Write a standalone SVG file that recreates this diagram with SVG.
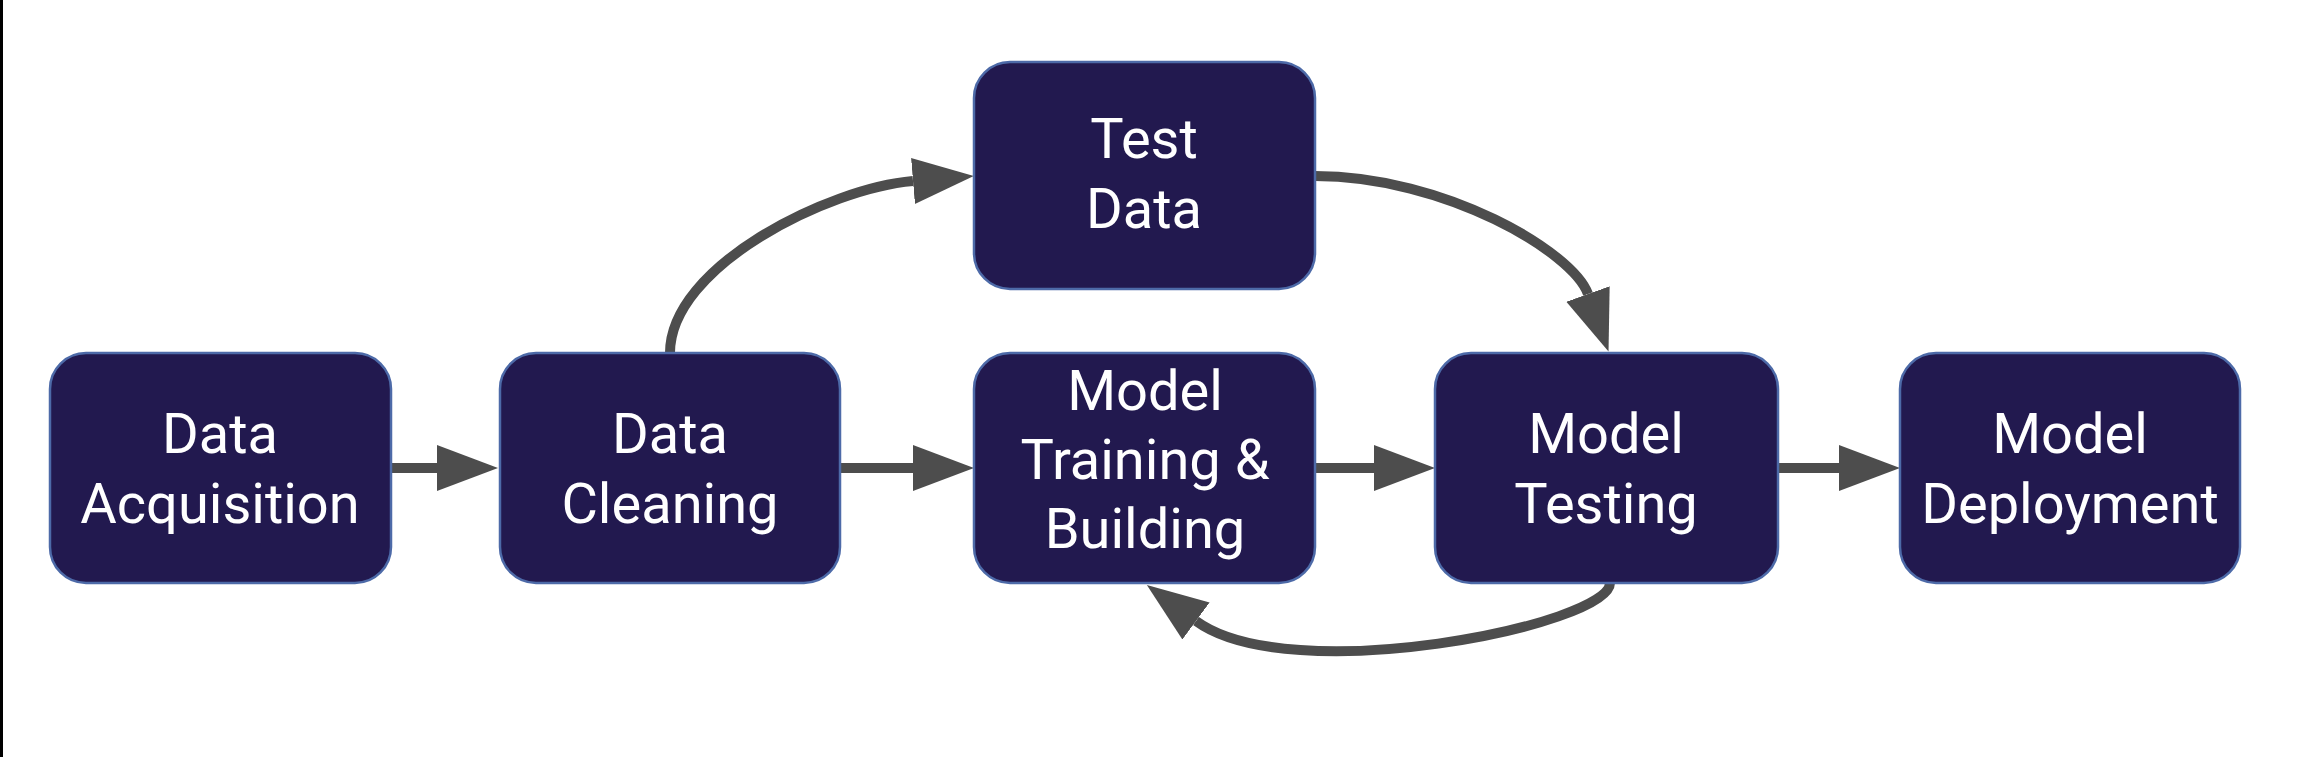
<svg xmlns="http://www.w3.org/2000/svg" width="2304" height="757" viewBox="0 0 2304 757">
<defs>
<style>
.box{fill:#22194f;stroke:#4d6aa8;stroke-width:2.5}
.lbl{font-family:Roboto,"Liberation Sans",sans-serif;font-size:56px;fill:#ffffff;text-anchor:middle}
.con{fill:none;stroke:#4d4d4d;stroke-width:10}
</style>
<marker id="ah" markerUnits="userSpaceOnUse" markerWidth="62" markerHeight="48" refX="0" refY="24" orient="auto" viewBox="0 0 62 48">
<path d="M0,1 L61,24 L0,47 z" fill="#4d4d4d"/>
</marker>
</defs>
<rect x="0" y="0" width="2304" height="757" fill="#ffffff"/>
<rect x="0" y="0" width="3" height="757" fill="#000000"/>
<g id="connectors">
<path class="con" d="M391,468 L437,468" marker-end="url(#ah)"/>
<path class="con" d="M840,468 L913,468" marker-end="url(#ah)"/>
<path class="con" d="M1315,468 L1374,468" marker-end="url(#ah)"/>
<path class="con" d="M1778,468 L1839,468" marker-end="url(#ah)"/>
<path class="con" d="M670,353 C670,266 829,188 913,181" marker-end="url(#ah)"/>
<path class="con" d="M1315,176 C1445,176 1573,252 1588,294" marker-end="url(#ah)"/>
<path class="con" d="M1610,583 C1610,625 1290,690 1196,621" marker-end="url(#ah)"/>
</g>
<g id="node-data-acquisition">
<rect class="box" x="50" y="353" width="341" height="230" rx="36"/>
<text class="lbl" x="220" y="453">Data</text>
<text class="lbl" x="220" y="523">Acquisition</text>
</g>
<g id="node-data-cleaning">
<rect class="box" x="500" y="353" width="340" height="230" rx="36"/>
<text class="lbl" x="670" y="453">Data</text>
<text class="lbl" x="670" y="523">Cleaning</text>
</g>
<g id="node-model-training">
<rect class="box" x="974" y="353" width="341" height="230" rx="36"/>
<text class="lbl" x="1145" y="410">Model</text>
<text class="lbl" x="1145" y="479">Training &amp;</text>
<text class="lbl" x="1145" y="548">Building</text>
</g>
<g id="node-test-data">
<rect class="box" x="974" y="62" width="341" height="227" rx="36"/>
<text class="lbl" x="1144" y="158">Test</text>
<text class="lbl" x="1144" y="228">Data</text>
</g>
<g id="node-model-testing">
<rect class="box" x="1435" y="353" width="343" height="230" rx="36"/>
<text class="lbl" x="1606" y="453">Model</text>
<text class="lbl" x="1606" y="523">Testing</text>
</g>
<g id="node-model-deployment">
<rect class="box" x="1900" y="353" width="340" height="230" rx="36"/>
<text class="lbl" x="2070" y="453">Model</text>
<text class="lbl" x="2070" y="523">Deployment</text>
</g>
</svg>
